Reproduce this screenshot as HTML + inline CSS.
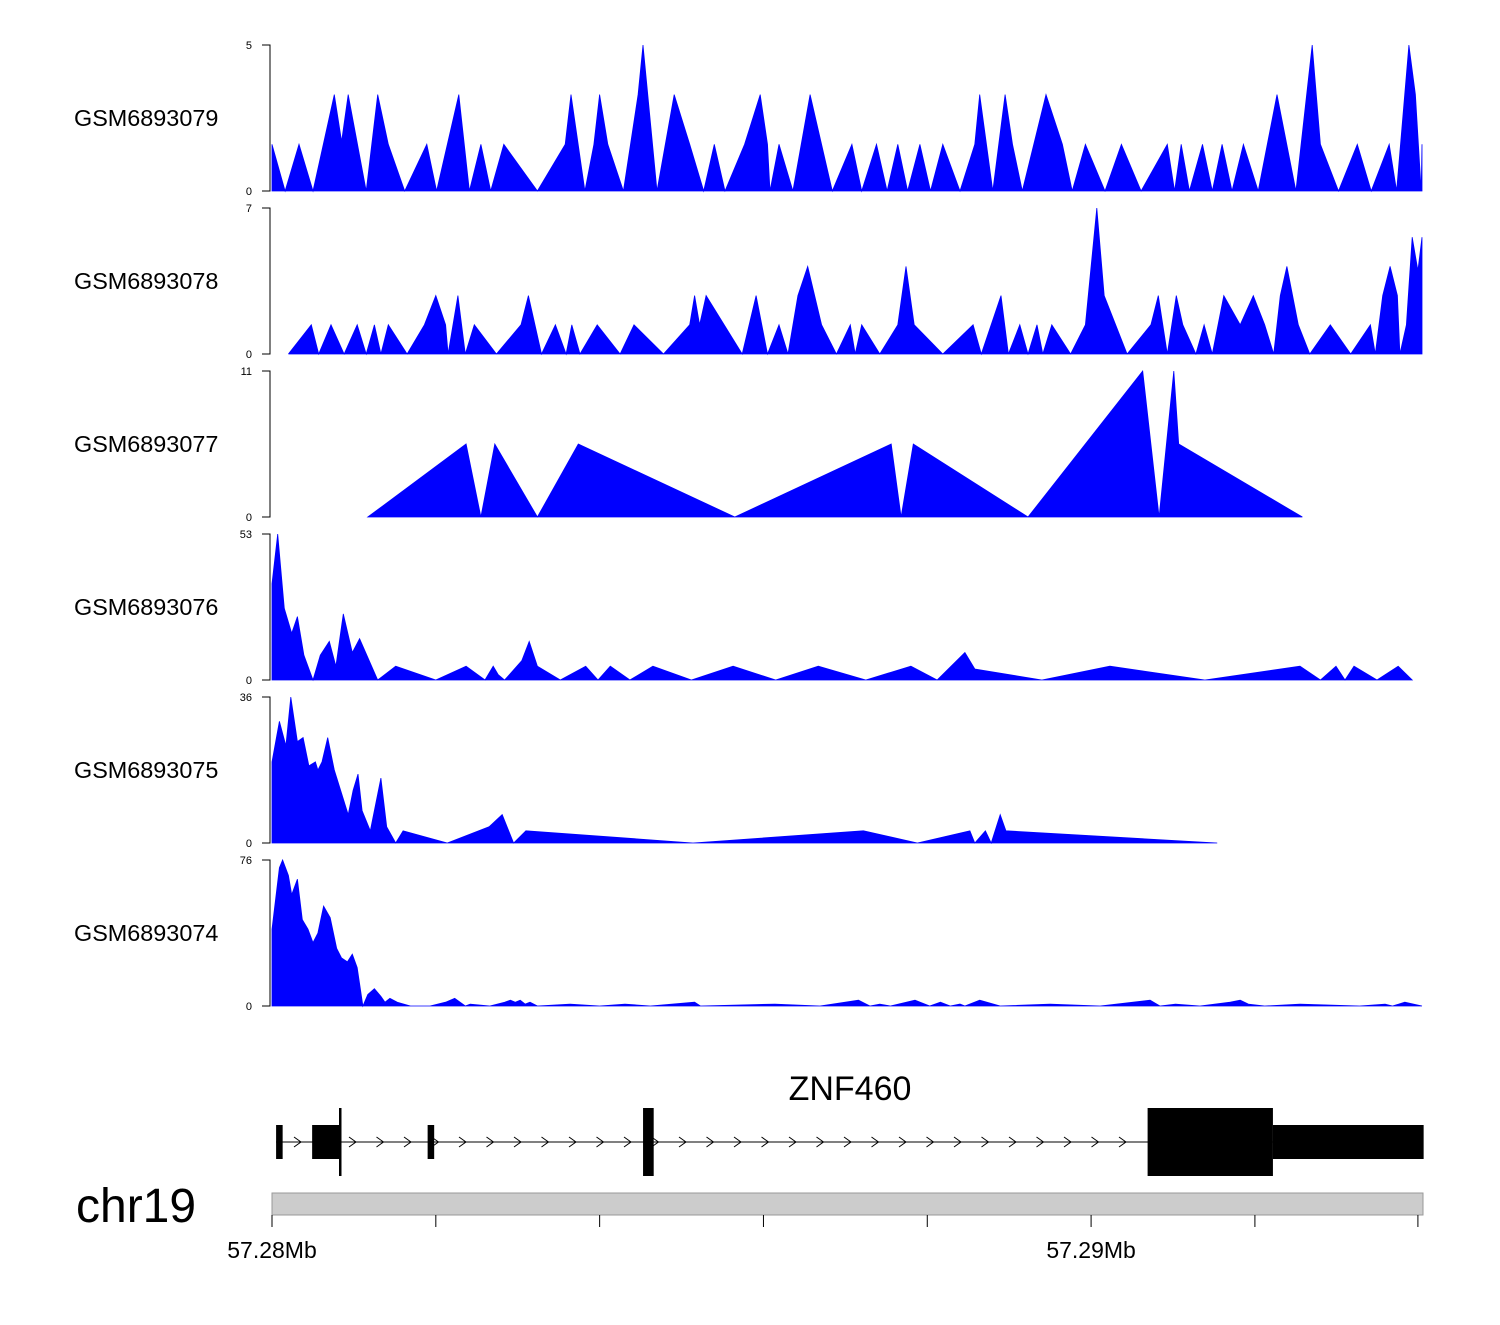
<!DOCTYPE html>
<html><head><meta charset="utf-8"><style>
html,body{margin:0;padding:0;background:#fff;}
svg text{font-family:"Liberation Sans",sans-serif;}
</style></head><body>
<svg id="chart" width="1500" height="1320" viewBox="0 0 1500 1320" xmlns="http://www.w3.org/2000/svg"></svg>
<script>
// positions in kb from 57.28Mb
const trackNames = ["GSM6893079","GSM6893078","GSM6893077","GSM6893076","GSM6893075","GSM6893074"];
const trackMax = [5,7,11,53,36,76];
const pos1 = [0,0.16,0.33,0.50,0.76,0.85,0.93,1.15,1.29,1.42,1.62,1.89,2.01,2.28,2.41,2.55,2.67,2.83,3.24,3.58,3.65,3.82,3.93,4.00,4.10,4.29,4.47,4.53,4.70,4.91,5.10,5.27,5.40,5.53,5.77,5.96,6.05,6.08,6.19,6.36,6.57,6.84,7.08,7.20,7.38,7.51,7.64,7.76,7.91,8.04,8.19,8.40,8.58,8.64,8.80,8.95,9.04,9.16,9.45,9.65,9.77,9.93,10.17,10.37,10.61,10.93,11.02,11.10,11.20,11.36,11.48,11.60,11.72,11.86,12.04,12.27,12.50,12.70,12.80,13.02,13.25,13.42,13.64,13.73,13.88,13.96,14.03,14.04];
const val1 = [1.6,0,1.6,0,3.3,1.7,3.3,0,3.3,1.6,0,1.6,0,3.3,0,1.6,0,1.6,0,1.6,3.3,0,1.6,3.3,1.6,0,3.3,5,0,3.3,1.6,0,1.6,0,1.6,3.3,1.6,0,1.6,0,3.3,0,1.6,0,1.6,0,1.6,0,1.6,0,1.6,0,1.6,3.3,0,3.3,1.6,0,3.3,1.6,0,1.6,0,1.6,0,1.6,0,1.6,0,1.6,0,1.6,0,1.6,0,3.3,0,5,1.6,0,1.6,0,1.6,0,5,3.3,0,1.6];
const pos2 = [0.20,0.48,0.57,0.72,0.88,1.04,1.15,1.25,1.33,1.42,1.65,1.86,2.00,2.12,2.15,2.27,2.36,2.47,2.74,3.04,3.13,3.29,3.46,3.59,3.66,3.76,3.97,4.25,4.42,4.78,5.10,5.16,5.22,5.30,5.74,5.91,6.05,6.19,6.30,6.42,6.54,6.71,6.89,7.06,7.12,7.20,7.42,7.64,7.74,7.84,8.19,8.56,8.66,8.90,8.99,9.13,9.23,9.34,9.41,9.52,9.75,9.93,10.07,10.16,10.44,10.73,10.82,10.93,11.04,11.12,11.28,11.38,11.48,11.62,11.82,11.98,12.12,12.23,12.31,12.39,12.53,12.67,12.92,13.17,13.41,13.47,13.56,13.65,13.74,13.77,13.85,13.92,13.99,14.04];
const val2 = [0,1.4,0,1.4,0,1.4,0,1.4,0,1.4,0,1.4,2.8,1.4,0,2.8,0,1.4,0,1.4,2.8,0,1.4,0,1.4,0,1.4,0,1.4,0,1.4,2.8,1.4,2.8,0,2.8,0,1.4,0,2.8,4.2,1.4,0,1.4,0,1.4,0,1.4,4.2,1.4,0,1.4,0,2.8,0,1.4,0,1.4,0,1.4,0,1.4,7,2.8,0,1.4,2.8,0,2.8,1.4,0,1.4,0,2.8,1.4,2.8,1.4,0,2.8,4.2,1.4,0,1.4,0,1.4,0,2.8,4.2,2.8,0,1.4,5.6,4.0,5.6];
const pos3 = [1.17,2.37,2.55,2.72,3.24,3.74,5.65,7.56,7.68,7.83,9.23,10.63,10.83,11.01,11.07,12.58];
const val3 = [0,5.5,0,5.5,0,5.5,0,5.5,0,5.5,0,11,0,11,5.5,0];
const pos4 = [0,0.07,0.15,0.24,0.31,0.39,0.50,0.59,0.70,0.78,0.87,0.98,1.07,1.29,1.51,2.00,2.37,2.60,2.70,2.76,2.84,3.05,3.14,3.24,3.52,3.83,3.98,4.13,4.37,4.65,5.12,5.63,6.15,6.67,7.25,7.80,8.12,8.46,8.58,9.40,10.23,11.39,12.55,12.80,12.99,13.10,13.21,13.49,13.75,13.92];
const val4 = [35,53,26,17,23,9,0,9,14,5,24,10,15,0,5,0,5,0,5,2,0,7,14,5,0,5,0,5,0,5,0,5,0,5,0,5,0,10,4,0,5,0,5,0,5,0,5,0,5,0];
const pos5 = [0,0.09,0.17,0.23,0.31,0.38,0.45,0.53,0.56,0.61,0.68,0.76,0.93,0.99,1.05,1.10,1.20,1.27,1.33,1.40,1.51,1.60,2.14,2.65,2.81,2.95,3.10,5.14,7.22,7.88,8.52,8.58,8.71,8.78,8.89,8.96,11.54];
const val5 = [20,30,24,36,25,26,19,20,18,20,26,18,7,13,17,8,3,10,16,4,0,3,0,4,7,0,3,0,3,0,3,0,3,0,7,3,0];
const pos6 = [0,0.09,0.13,0.20,0.24,0.31,0.37,0.44,0.50,0.56,0.63,0.71,0.79,0.85,0.92,0.98,1.04,1.11,1.17,1.25,1.33,1.38,1.44,1.53,1.69,1.93,2.12,2.23,2.36,2.42,2.66,2.84,2.91,2.97,3.03,3.09,3.15,3.24,3.64,4.00,4.31,4.62,5.16,5.23,6.14,6.69,7.16,7.30,7.42,7.55,7.85,8.03,8.16,8.28,8.40,8.46,8.64,8.89,9.50,10.11,10.72,10.84,11.03,11.33,11.70,11.82,11.92,12.12,12.55,13.28,13.59,13.68,13.83,14.04];
const val6 = [40,72,76,68,58,66,45,40,33,38,52,46,30,25,23,27,20,0,6,9,5,2,4,2,0,0,2,4,0,1,0,2,3,2,3,1,2,0,1,0,1,0,2,0,1,0,3,0,1,0,3,0,2,0,1,0,3,0,1,0,3,0,1,0,2,3,1,0,1,0,1,0,2,0];
const positions = [pos1,pos2,pos3,pos4,pos5,pos6];
const values = [val1,val2,val3,val4,val5,val6];
// gene model (kb)
const exonStarts = [0.05,0.49,1.90,4.53,10.69,12.22];
const exonEnds = [0.13,0.83,1.98,4.66,12.22,14.06];
const exonTall = [false,false,false,true,true,false];
const axisTicksKb = [0,2,4,6,8,10,12,13.99];
const axisLabels = {0:"57.28Mb",10:"57.29Mb"};

const svg = document.getElementById('chart');
const NS = 'http://www.w3.org/2000/svg';
const X0 = 272, X1 = 1422, KB1 = 14.04;
function xScale(kb){ return X0 + kb/KB1*(X1-X0); }
function mk(tag, attrs){ const e=document.createElementNS(NS,tag); for(const k in attrs) e.setAttribute(k,attrs[k]); svg.appendChild(e); return e; }

trackNames.forEach((name,i)=>{
  const top = 45 + i*163, bot = top + 146;
  const yScale = v => bot - v/trackMax[i]*146;
  const lbl = mk('text',{x:74,y:(top+bot)/2+8,'font-size':23.4,fill:'#000'});
  lbl.textContent = name;
  
  
  const ax = mk('path',{d:`M262 ${top}H270V${bot}H262`,stroke:'#000','stroke-width':1,fill:'none'});
  
  
  [[trackMax[i],top],[0,bot]].forEach(([t,y])=>{
    const tt = mk('text',{x:252,y:y+4,'font-size':11,'text-anchor':'end',fill:'#000'});
    tt.textContent = t;
    
    
  });
  const ps = positions[i], vs = values[i];
  let d = `M${xScale(ps[0])} ${bot}`;
  for(let j=0;j<ps.length;j++) d += `L${xScale(ps[j]).toFixed(1)} ${yScale(vs[j]).toFixed(1)}`;
  d += `L${xScale(ps[ps.length-1])} ${bot}Z`;
  const area = mk('path',{d:d,fill:'#0000ff',stroke:'#0000ff','stroke-width':0.8});
  
  
});

// gene track
const gy = 1142;
const gl = mk('line',{x1:xScale(0.05),y1:gy,x2:X1,y2:gy,stroke:'#000','stroke-width':1});


for(let x=298; x<1145; x+=27.5){
  const a = mk('path',{d:`M${x-4} ${gy-5}L${x+3} ${gy}L${x-4} ${gy+5}`,stroke:'#000','stroke-width':1,fill:'none'});
  
  
}
exonStarts.forEach((s,i)=>{
  const x1 = xScale(s), x2 = xScale(exonEnds[i]);
  const h = exonTall[i] ? 68 : 34;
  const r = mk('rect',{x:x1,y:gy-h/2,width:x2-x1,height:h,fill:'#000'});
  
  
});
const tss = mk('rect',{x:339,y:1108,width:2.5,height:68,fill:'#000'});


const gname = mk('text',{x:850,y:1100,'font-size':34,'text-anchor':'middle',fill:'#000'});
gname.textContent = 'ZNF460';



// ideogram & axis
const ideo = mk('rect',{x:272,y:1193,width:1151,height:22,fill:'#cccccc',stroke:'#999','stroke-width':1});


const chr = mk('text',{x:76,y:1222,'font-size':48,fill:'#000'});
chr.textContent = 'chr19';


axisTicksKb.forEach(k=>{
  const x = xScale(k);
  const t = mk('line',{x1:x,y1:1215,x2:x,y2:1227,stroke:'#000','stroke-width':1});
  
  
  if(axisLabels[k]){
    const tl = mk('text',{x:x,y:1258,'font-size':23,'text-anchor':'middle',fill:'#000'});
    tl.textContent = axisLabels[k];
    
    
  }
});
</script>
</body></html>
